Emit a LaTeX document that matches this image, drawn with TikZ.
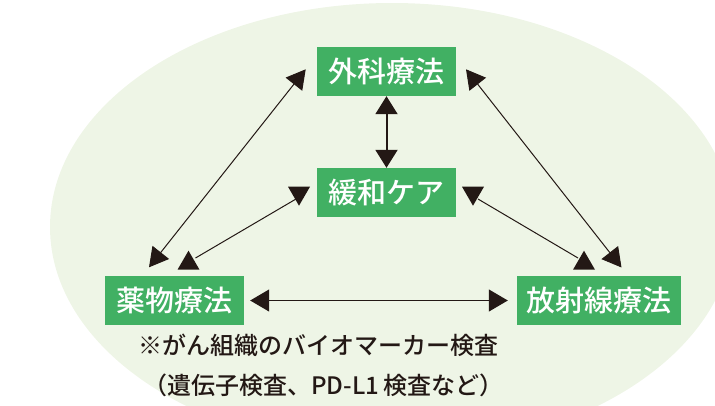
\documentclass[tikz,border=0pt]{standalone}
\usepackage{fontspec}
\newfontfamily\jp{Noto Sans CJK JP Medium}
\usetikzlibrary{arrows.meta}
\definecolor{bgc}{HTML}{EEF5E6}
\definecolor{boxg}{HTML}{41B063}
\definecolor{ink}{HTML}{231815}
\begin{document}
\begin{tikzpicture}[x=1pt,y=-1pt,
  tbox/.style={fill=boxg, text=white, inner sep=0pt, minimum height=49pt,
    font=\jp\fontsize{29}{31}\selectfont},
  dbl/.style={draw=ink, line width=1pt,
    {Triangle[length=19pt,width=21pt]}-{Triangle[length=19pt,width=21pt]}},
  vbl/.style={draw=ink, line width=2pt,
    {Triangle[length=18pt,width=22pt]}-{Triangle[length=18pt,width=22pt]}},
  hbl/.style={draw=ink, line width=1.2pt,
    {Triangle[length=19pt,width=22pt]}-{Triangle[length=19pt,width=22pt]}},
  thin/.style={draw=ink, line width=1pt},
  note/.style={text=ink, inner sep=0pt, anchor=west,
    font=\jp\fontsize{24}{26}\selectfont}]
\useasboundingbox (0,0) rectangle (715,405);
\begin{scope}
  \clip (0,0) rectangle (715,405);
  \fill[bgc] (392,227) ellipse [x radius=342pt, y radius=224pt];
\end{scope}

% boxes
\node[tbox, minimum width=139pt] (surg) at (386.5,71.5) {外科療法};
\node[tbox, minimum width=139pt] (pall) at (386.5,192.5) {緩和ケア};
\node[tbox, minimum width=139pt] (drug) at (174.5,300.5) {薬物療法};
\node[tbox, minimum width=164pt] (rad) at (599,300.5) {放射線療法};

% notes
\node[note] (n1) at (138,345.8) {※がん組織のバイオマーカー検査};
\node[note] (n2) at (143,385) {（遺伝子検査、PD-L1\,検査など）};

% tips of connectors
\coordinate (ls) at (305.7,69.3);
\coordinate (ld) at (149,267.3);
\coordinate (rs) at (466,69.3);
\coordinate (rr) at (621.5,267.5);
\coordinate (pla) at (299,205.7);
\coordinate (dla) at (188.5,250.7);
\coordinate (pra) at (473,205.7);
\coordinate (rla) at (584,250.7);

% connectors
\draw[vbl] (surg) -- (pall);
\draw[hbl, shorten <=6pt, shorten >=9pt] (drug.east) -- (rad.west);
\draw[dbl] (ld) -- (ls);
\draw[dbl] (rs) -- (rr);

% short diagonals with upright heads
\draw[thin] (195.5,258) -- (296,199);
\draw[thin] (478,199) -- (578,258);
\fill[ink] (pla) -- ++(-11,-19) -- ++(22,0) -- cycle;
\fill[ink] (dla) -- ++(-11,19) -- ++(22,0) -- cycle;
\fill[ink] (pra) -- ++(-11,-19) -- ++(22,0) -- cycle;
\fill[ink] (rla) -- ++(-11,19) -- ++(22,0) -- cycle;
\end{tikzpicture}
\end{document}
